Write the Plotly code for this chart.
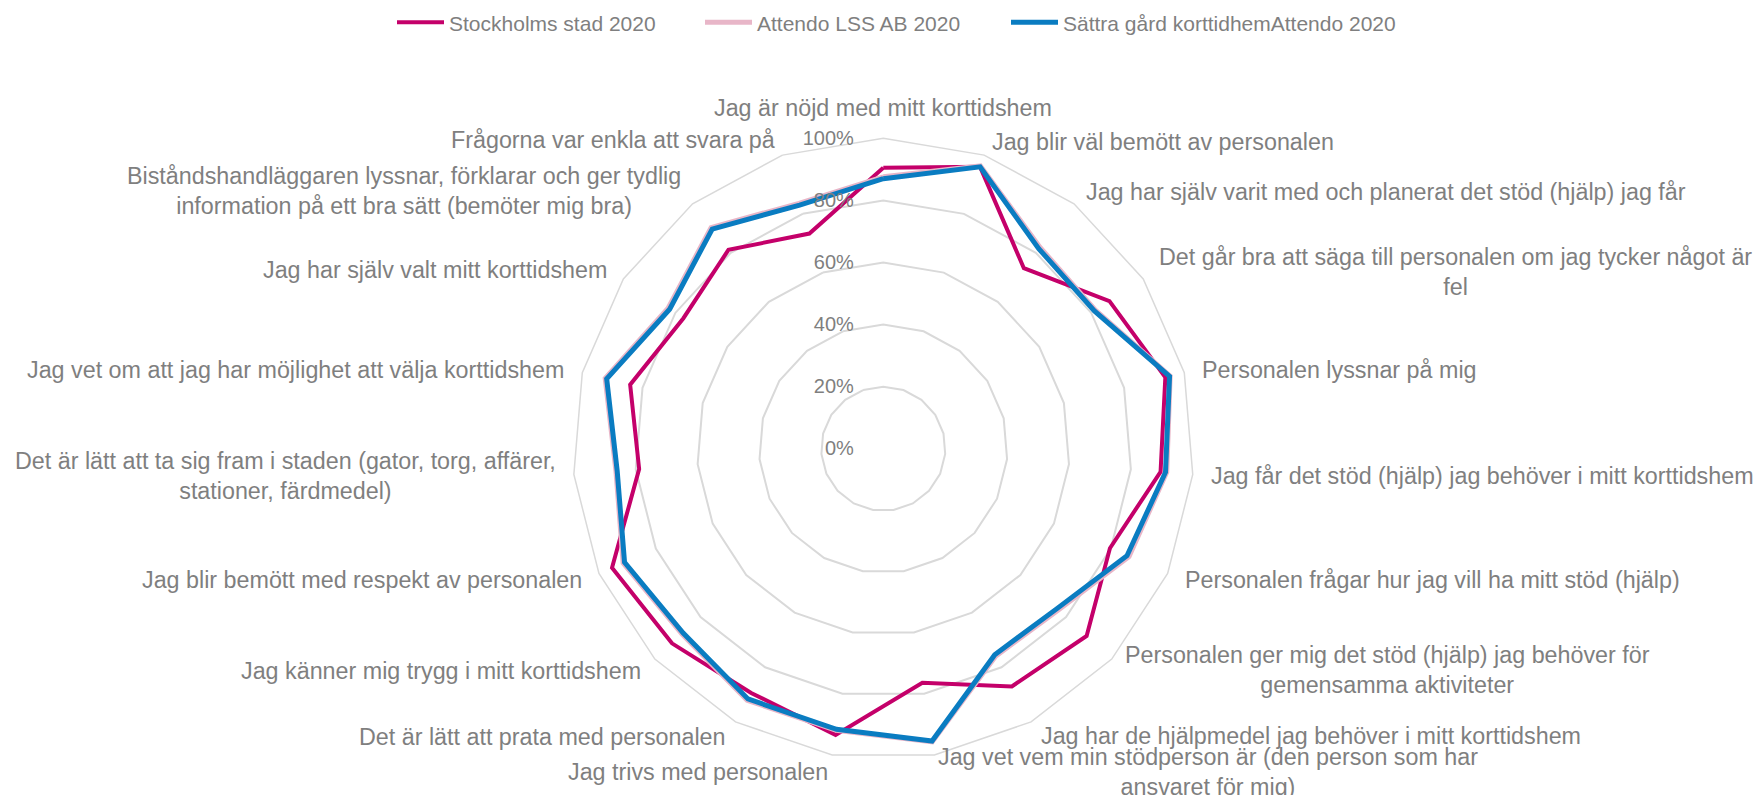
import plotly.graph_objects as go

categories = [
    "Jag är nöjd med mitt korttidshem",
    "Jag blir väl bemött av personalen",
    "Jag har själv varit med och planerat det stöd (hjälp) jag får",
    "Det går bra att säga till personalen om jag tycker något är<br>fel",
    "Personalen lyssnar på mig",
    "Jag får det stöd (hjälp) jag behöver i mitt korttidshem",
    "Personalen frågar hur jag vill ha mitt stöd (hjälp)",
    "Personalen ger mig det stöd (hjälp) jag behöver för<br>gemensamma aktiviteter",
    "Jag har de hjälpmedel jag behöver i mitt korttidshem",
    "Jag vet vem min stödperson är (den person som har<br>ansvaret för mig)",
    "Jag trivs med personalen",
    "Det är lätt att prata med personalen",
    "Jag känner mig trygg i mitt korttidshem",
    "Jag blir bemött med respekt av personalen",
    "Det är lätt att ta sig fram i staden (gator, torg, affärer,<br>stationer, färdmedel)",
    "Jag vet om att jag har möjlighet att välja korttidshem",
    "Jag har själv valt mitt korttidshem",
    "Biståndshandläggaren lyssnar, förklarar och ger tydlig<br>information på ett bra sätt (bemöter mig bra)",
    "Frågorna var enkla att svara på",
]

stockholm = [90.5, 96.0, 73.7, 87.0, 93.7, 89.6, 79.7, 89.0, 87.0, 76.4,
             93.4, 89.4, 92.5, 95.4, 78.9, 84.1, 76.9, 81.2, 73.3]
attendo = [87.6, 96.3, 82.2, 81.6, 95.3, 91.6, 86.4, 76.6, 76.0, 95.7,
           91.9, 92.1, 88.1, 91.5, 86.4, 92.4, 82.8, 90.3, 83.6]
sattra = [87.0, 96.0, 81.6, 81.2, 95.1, 91.2, 85.7, 76.0, 75.4, 95.4,
          91.6, 91.6, 87.6, 91.0, 86.0, 91.9, 82.2, 89.7, 83.0]

series_names = ["Stockholms stad 2020", "Attendo LSS AB 2020", "Sättra gård korttidhemAttendo 2020"]
series_values = [stockholm, attendo, sattra]
series_colors = ["#C4006A", "#E8B6C8", "#0A7CC1"]
series_widths = [4, 5, 5]
legend_ids = ["legend", "legend2", "legend3"]

radial_ticks = [0, 20, 40, 60, 80, 100]
radial_ticktext = [f"{v}%" for v in radial_ticks]

# ---- layout (pixel placement of the category labels around the web) ----
W, H = 1756, 795
cx, cy, R = 883.3, 448.8, 310.5
legend_starts = [392, 700, 1006]
label_layout = [  # (x px, y px, xanchor)
    (882.8, 108.3, "center"),
    (990.0, 141.7, "left"),
    (1084.4, 191.7, "left"),
    (1455.0, 271.7, "center"),
    (1200.0, 370.0, "left"),
    (1208.8, 476.0, "left"),
    (1182.8, 580.0, "left"),
    (1387.0, 670.3, "center"),
    (1039.0, 736.0, "left"),
    (1208.0, 771.7, "center"),
    (829.5, 771.7, "right"),
    (726.8, 736.7, "right"),
    (643.0, 670.7, "right"),
    (584.0, 580.0, "right"),
    (285.0, 475.5, "center"),
    (566.0, 370.0, "right"),
    (609.4, 270.0, "right"),
    (404.0, 190.5, "center"),
    (776.7, 140.0, "right"),
]

fig = go.Figure()
for name, vals, col, w, lid in zip(series_names, series_values, series_colors, series_widths, legend_ids):
    fig.add_trace(go.Scatterpolar(
        r=vals + [vals[0]],
        theta=categories + [categories[0]],
        mode="lines",
        name=name,
        legend=lid,
        line=dict(color=col, width=w),
    ))

grey = "#7F7F7F"
legend_common = dict(
    orientation="h", xanchor="left", y=1 - 22.7 / H, yanchor="middle",
    font=dict(size=21, color=grey), itemwidth=47, bgcolor="rgba(0,0,0,0)",
)
layout_legends = {}
for lid, xs in zip(legend_ids, legend_starts):
    layout_legends[lid] = dict(legend_common, x=xs / W)

annotations = []
for text, (lx, ly, anchor) in zip(categories, label_layout):
    annotations.append(dict(
        text=text, xref="paper", yref="paper",
        x=lx / W, y=1 - ly / H, xanchor=anchor, yanchor="middle",
        align="center", showarrow=False,
        font=dict(size=23.3, color=grey),
    ))

fig.update_layout(
    width=W, height=H,
    margin=dict(l=0, r=0, t=0, b=0),
    paper_bgcolor="white",
    plot_bgcolor="white",
    font=dict(family="Liberation Sans, Arial, sans-serif", color=grey, size=21),
    showlegend=True,
    annotations=annotations,
    polar=dict(
        domain=dict(x=[(cx - R) / W, (cx + R) / W], y=[(H - cy - R) / H, (H - cy + R) / H]),
        gridshape="linear",
        bgcolor="white",
        radialaxis=dict(
            range=[0, 100], tickvals=radial_ticks, ticktext=radial_ticktext,
            angle=90, tickangle=90, side="counterclockwise",
            showline=False, ticks="outside", ticklen=22, tickcolor="rgba(0,0,0,0)",
            gridcolor="#D9D9D9", gridwidth=1.5,
            tickfont=dict(size=20, color=grey),
        ),
        angularaxis=dict(
            rotation=90, direction="clockwise",
            showgrid=False, showline=True, linecolor="#D9D9D9", linewidth=1.5,
            ticks="", showticklabels=False,
        ),
    ),
    **layout_legends,
)

fig.write_html("out.html", post_script="document.body.style.margin='0';",
               config={"displayModeBar": False})
